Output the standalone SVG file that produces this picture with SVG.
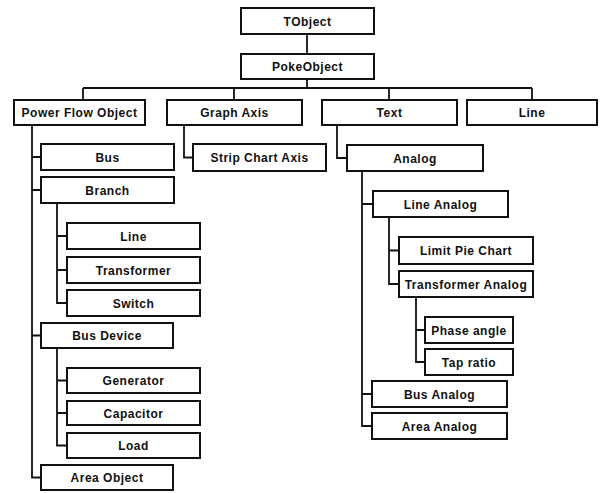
<svg xmlns="http://www.w3.org/2000/svg" width="601" height="493" viewBox="0 0 601 493">
<style>
.b{fill:#fff;stroke:#111;stroke-width:2}
.t{font-family:"Liberation Sans",Arial,sans-serif;font-weight:bold;font-size:12px;letter-spacing:0.5px;fill:#111;text-anchor:middle}
.c{fill:none;stroke:#111;stroke-width:1.8}
</style>
<rect width="601" height="493" fill="#fff"/>
<g id="connectors">
<path class="c" d="M307,34V54"/>
<path class="c" d="M307,79V88M83,88H532M83,88V100M234,88V100M389,88V100M532,88V100"/>
<path class="c" d="M32,125V477.5H41M32,157H41M32,190H41M32,335.5H41"/>
<path class="c" d="M57,203V303H67M57,236H67M57,270H67"/>
<path class="c" d="M57,348V445.5H67M57,380.5H67M57,413H67"/>
<path class="c" d="M184,125V157.5H193"/>
<path class="c" d="M337,125V158H347"/>
<path class="c" d="M362,171V426H372M362,204H373M362,394H372"/>
<path class="c" d="M389,217V284H399M389,250.5H399"/>
<path class="c" d="M416,297V362H425M416,330H425"/>
</g>
<g id="n-tobject"><rect class="b" x="241" y="8" width="133" height="26"/><text class="t" x="307.5" y="25.5">TObject</text></g>
<g id="n-pokeobject"><rect class="b" x="241" y="54" width="133" height="25"/><text class="t" x="307.5" y="71">PokeObject</text></g>
<g id="n-powerflow"><rect class="b" x="14" y="100" width="131" height="25"/><text class="t" x="79.5" y="117">Power Flow Object</text></g>
<g id="n-graphaxis"><rect class="b" x="167" y="100" width="135" height="25"/><text class="t" x="234.5" y="117">Graph Axis</text></g>
<g id="n-text"><rect class="b" x="322" y="100" width="135" height="25"/><text class="t" x="389.5" y="117">Text</text></g>
<g id="n-line"><rect class="b" x="467" y="100" width="130" height="25"/><text class="t" x="532" y="117">Line</text></g>
<g id="n-bus"><rect class="b" x="41" y="144" width="133" height="26"/><text class="t" x="107.5" y="161.5">Bus</text></g>
<g id="n-branch"><rect class="b" x="41" y="177" width="133" height="26"/><text class="t" x="107.5" y="194.5">Branch</text></g>
<g id="n-branchline"><rect class="b" x="67" y="223" width="133" height="26"/><text class="t" x="133.5" y="240.5">Line</text></g>
<g id="n-transformer"><rect class="b" x="67" y="257" width="133" height="26"/><text class="t" x="133.5" y="274.5">Transformer</text></g>
<g id="n-switch"><rect class="b" x="67" y="290" width="133" height="26"/><text class="t" x="133.5" y="307.5">Switch</text></g>
<g id="n-busdevice"><rect class="b" x="41" y="323" width="132" height="25"/><text class="t" x="107" y="340">Bus Device</text></g>
<g id="n-generator"><rect class="b" x="67" y="368" width="133" height="25"/><text class="t" x="133.5" y="385">Generator</text></g>
<g id="n-capacitor"><rect class="b" x="67" y="401" width="133" height="24"/><text class="t" x="133.5" y="417.5">Capacitor</text></g>
<g id="n-load"><rect class="b" x="67" y="433" width="133" height="25"/><text class="t" x="133.5" y="450">Load</text></g>
<g id="n-areaobject"><rect class="b" x="41" y="465" width="132" height="25"/><text class="t" x="107" y="482">Area Object</text></g>
<g id="n-stripchart"><rect class="b" x="193" y="144" width="133" height="27"/><text class="t" x="259.5" y="162">Strip Chart Axis</text></g>
<g id="n-analog"><rect class="b" x="347" y="145" width="136" height="26"/><text class="t" x="415" y="162.5">Analog</text></g>
<g id="n-lineanalog"><rect class="b" x="373" y="191" width="135" height="26"/><text class="t" x="440.5" y="208.5">Line Analog</text></g>
<g id="n-limitpie"><rect class="b" x="399" y="237" width="134" height="27"/><text class="t" x="466" y="255">Limit Pie Chart</text></g>
<g id="n-transanalog"><rect class="b" x="399" y="271" width="134" height="26"/><text class="t" x="466" y="288.5">Transformer Analog</text></g>
<g id="n-phaseangle"><rect class="b" x="425" y="317" width="88" height="26"/><text class="t" x="469" y="334.5">Phase angle</text></g>
<g id="n-tapratio"><rect class="b" x="425" y="349" width="88" height="26"/><text class="t" x="469" y="366.5">Tap ratio</text></g>
<g id="n-busanalog"><rect class="b" x="372" y="381" width="135" height="26"/><text class="t" x="439.5" y="398.5">Bus Analog</text></g>
<g id="n-areaanalog"><rect class="b" x="372" y="413" width="135" height="26"/><text class="t" x="439.5" y="430.5">Area Analog</text></g>
</svg>
